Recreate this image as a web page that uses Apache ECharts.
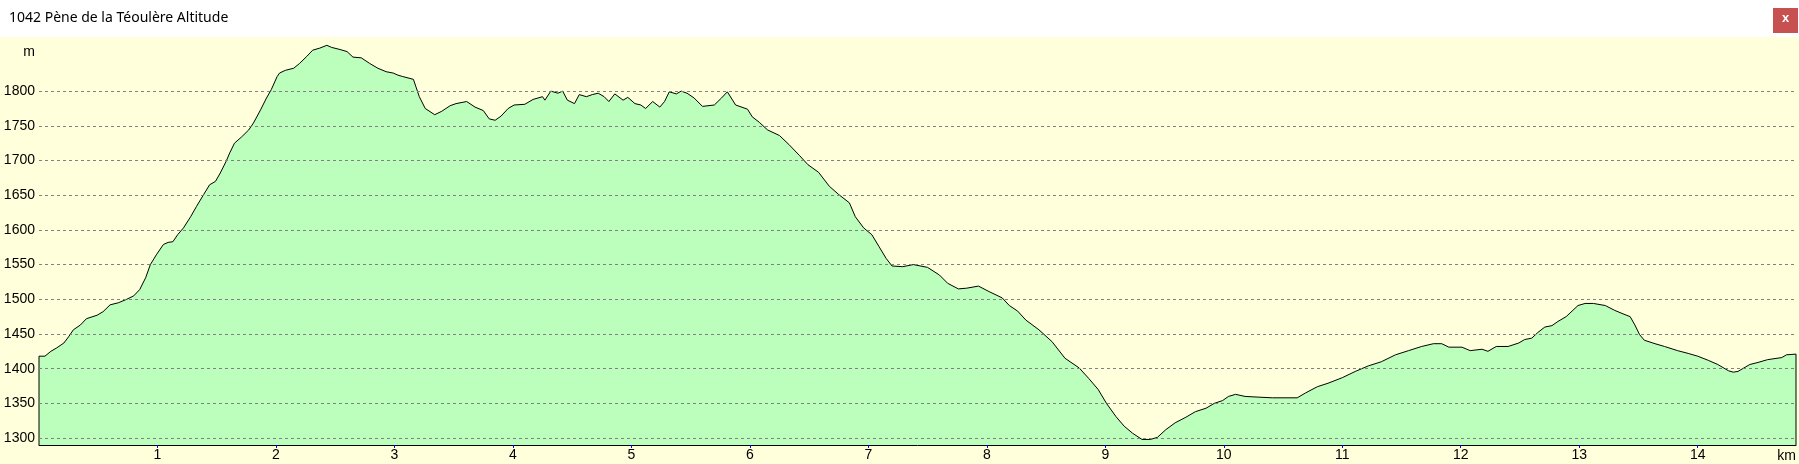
<!DOCTYPE html>
<html>
<head>
<meta charset="utf-8">
<title>1042 Pène de la Téoulère Altitude</title>
<script src="https://cdn.jsdelivr.net/npm/echarts@6/dist/echarts.min.js"></script>
<style>
  html, body { margin: 0; padding: 0; background: #fff; }
  #c1 { width: 1799px; height: 464px; }
</style>
</head>
<body>
<div id="c1"></div>
<script>
// profile: distance (km) and altitude (m)
const km = [
  0, 0.05, 0.1, 0.15, 0.21, 0.25, 0.29, 0.35, 0.40, 0.49, 0.54, 0.60, 0.67, 0.74, 0.80, 0.85,
  0.90, 0.94, 0.99, 1.05, 1.09, 1.13, 1.17, 1.22, 1.28, 1.33, 1.39, 1.44, 1.49, 1.53, 1.58, 1.61,
  1.65, 1.71, 1.77, 1.81, 1.87, 1.92, 1.96, 2.01, 2.03, 2.08, 2.15, 2.20, 2.26, 2.31, 2.37, 2.43,
  2.47, 2.54, 2.60, 2.65, 2.72, 2.79, 2.86, 2.93, 2.99, 3.03, 3.07, 3.16, 3.18, 3.21, 3.26, 3.34,
  3.40, 3.47, 3.52, 3.61, 3.68, 3.75, 3.80, 3.85, 3.90, 3.96, 4.01, 4.10, 4.17, 4.25, 4.27, 4.32,
  4.38, 4.42, 4.46, 4.52, 4.56, 4.62, 4.67, 4.72, 4.77, 4.81, 4.86, 4.93, 4.97, 5.03, 5.08, 5.12,
  5.18, 5.24, 5.28, 5.32, 5.38, 5.42, 5.47, 5.53, 5.60, 5.70, 5.76, 5.81, 5.88, 5.98, 6.02, 6.08,
  6.15, 6.25, 6.33, 6.42, 6.49, 6.58, 6.67, 6.75, 6.84, 6.89, 6.96, 7.03, 7.09, 7.15, 7.20, 7.29,
  7.38, 7.50, 7.60, 7.67, 7.76, 7.83, 7.93, 8.02, 8.13, 8.19, 8.26, 8.33, 8.44, 8.55, 8.66, 8.78,
  8.86, 8.94, 9.01, 9.09, 9.16, 9.23, 9.31, 9.38, 9.44, 9.51, 9.59, 9.68, 9.76, 9.85, 9.92, 9.99,
  10.04, 10.10, 10.18, 10.29, 10.41, 10.62, 10.69, 10.79, 10.88, 11.00, 11.11, 11.22, 11.33, 11.45, 11.56, 11.67,
  11.77, 11.84, 11.90, 12.01, 12.08, 12.18, 12.23, 12.30, 12.40, 12.49, 12.54, 12.60, 12.65, 12.71, 12.77, 12.82,
  12.89, 12.94, 12.99, 13.05, 13.12, 13.22, 13.30, 13.37, 13.43, 13.47, 13.51, 13.55, 13.64, 13.72, 13.83, 13.92,
  14.00, 14.09, 14.17, 14.26, 14.30, 14.34, 14.44, 14.51, 14.59, 14.71, 14.75, 14.83
]
const altitude = [
  1418, 1418, 1425, 1430, 1437, 1446, 1456, 1463, 1472, 1477, 1482, 1492, 1495, 1500, 1505, 1514,
  1531, 1550, 1564, 1579, 1582, 1583, 1593, 1603, 1619, 1634, 1651, 1665, 1670, 1682, 1699, 1711,
  1725, 1734, 1744, 1754, 1773, 1790, 1802, 1821, 1826, 1830, 1833, 1840, 1850, 1859, 1862, 1866,
  1863, 1860, 1857, 1849, 1848, 1840, 1833, 1828, 1826, 1823, 1821, 1817, 1807, 1792, 1775, 1766,
  1771, 1779, 1782, 1785, 1777, 1772, 1760, 1758, 1764, 1775, 1780, 1781, 1788, 1792, 1787, 1800,
  1797, 1800, 1787, 1782, 1795, 1792, 1795, 1797, 1792, 1785, 1796, 1787, 1791, 1782, 1780, 1775,
  1785, 1777, 1785, 1799, 1796, 1800, 1797, 1790, 1778, 1780, 1790, 1799, 1780, 1774, 1763, 1755,
  1744, 1736, 1723, 1707, 1694, 1683, 1663, 1651, 1639, 1619, 1603, 1593, 1576, 1559, 1548, 1547,
  1550, 1546, 1535, 1523, 1515, 1516, 1519, 1511, 1502, 1491, 1483, 1470, 1456, 1439, 1415, 1401,
  1386, 1370, 1350, 1331, 1317, 1307, 1298, 1298, 1301, 1312, 1322, 1330, 1338, 1343, 1350, 1354,
  1360, 1363, 1360, 1359, 1358, 1358, 1365, 1374, 1379, 1387, 1396, 1404, 1410, 1420, 1426, 1432,
  1436, 1436, 1431, 1431, 1426, 1428, 1425, 1432, 1432, 1437, 1442, 1444, 1452, 1460, 1462, 1468,
  1475, 1483, 1491, 1494, 1494, 1491, 1484, 1479, 1475, 1463, 1449, 1441, 1436, 1432, 1426, 1422,
  1418, 1412, 1406, 1397, 1395, 1396, 1406, 1409, 1413, 1416, 1420, 1421
]
const kmTicks = [1, 2, 3, 4, 5, 6, 7, 8, 9, 10, 11, 12, 13, 14]
const altTicks = [1300, 1350, 1400, 1450, 1500, 1550, 1600, 1650, 1700, 1750, 1800]
const yMin = 1290
const yMax = 1878

const title = '1042 Pène de la Téoulère Altitude'

// close the outline down to the axis at both ends
const profile = [[km[0], yMin]]
  .concat(km.map((d, i) => [d, altitude[i]]))
  .concat([[km[km.length - 1], yMin]])

const myChart = echarts.init(document.getElementById('c1'))
const font = '"Liberation Sans", Arial, sans-serif'

var option = {
  backgroundColor: '#FFFFDC',
  animation: false,
  grid: {
    left: 39,
    right: 2,
    top: 37,
    bottom: 19
  },
  xAxis: {
    type: 'value',
    min: 0,
    max: km[km.length - 1],
    name: 'km',
    nameLocation: 'end',
    nameGap: 0,
    nameTextStyle: {
      color: '#000',
      fontFamily: font,
      fontSize: 14,
      align: 'right',
      verticalAlign: 'top',
      padding: [4, 0, 0, 0]
    },
    axisLine: { show: true, lineStyle: { color: '#000', width: 1 } },
    axisTick: {
      show: true,
      length: 3,
      customValues: kmTicks,
      lineStyle: { color: '#0000FF' }
    },
    axisLabel: {
      customValues: kmTicks,
      margin: 3,
      color: '#000',
      fontFamily: font,
      fontSize: 14,
      formatter: v => String(v)
    },
    splitLine: { show: false }
  },
  yAxis: {
    type: 'value',
    min: yMin,
    max: yMax,
    name: 'm',
    nameLocation: 'end',
    nameGap: -15,
    nameTextStyle: {
      color: '#000',
      fontFamily: font,
      fontSize: 14,
      align: 'right',
      verticalAlign: 'middle',
      padding: [0, 4, 0, 0]
    },
    axisLine: { show: false },
    axisTick: { show: false, customValues: altTicks },
    axisLabel: {
      customValues: altTicks,
      margin: 4,
      color: '#000',
      fontFamily: font,
      fontSize: 14,
      formatter: v => String(v)
    },
    splitLine: { show: false }
  },
  series: [
    {
      type: 'line',
      data: profile,
      symbol: 'none',
      smooth: false,
      silent: true,
      lineStyle: { color: '#000', width: 1 },
      areaStyle: { color: '#BCFFBC', opacity: 1, origin: 'start' },
      markLine: {
        silent: true,
        symbol: 'none',
        label: { show: false },
        lineStyle: { color: '#808080', type: [3, 3], width: 1 },
        data: altTicks.map(v => ({ yAxis: v }))
      }
    }
  ],
  graphic: [
    {
      type: 'rect',
      left: 0,
      top: 0,
      shape: { width: 1799, height: 37 },
      style: { fill: '#fff' }
    },
    {
      type: 'text',
      left: 9,
      top: 11,
      style: {
        text: title,
        fill: '#000',
        font: '14px "Noto Sans", sans-serif'
      }
    },
    {
      type: 'rect',
      left: 1773,
      top: 8,
      shape: { width: 25, height: 25 },
      style: { fill: '#C75050' }
    },
    {
      type: 'text',
      left: 1782,
      top: 12,
      style: {
        text: 'x',
        fill: '#fff',
        font: 'bold 13px "Liberation Sans", sans-serif'
      }
    }
  ]
}
option && myChart.setOption(option)
</script>
</body>
</html>
